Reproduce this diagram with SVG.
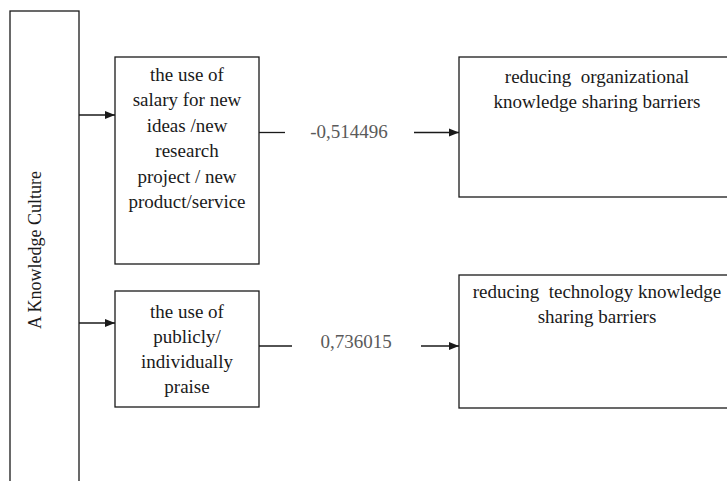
<svg xmlns="http://www.w3.org/2000/svg" width="727" height="481" viewBox="0 0 727 481">
<style>
.box{fill:#fff;stroke:#1a1a1a;stroke-width:1.3}
.t{font-family:"Liberation Serif","Times New Roman",serif;font-size:19px;fill:#1a1a1a;text-anchor:middle}
.lbl{font-family:"Liberation Serif","Times New Roman",serif;font-size:19px;fill:#5a5a5a;text-anchor:middle}
.ln{fill:none;stroke:#1a1a1a;stroke-width:1.3}
</style>
<defs>
<marker id="ah" viewBox="0 0 10 10" refX="10" refY="5" markerWidth="10" markerHeight="10" markerUnits="userSpaceOnUse" orient="auto">
<path d="M0,1 L10,5 L0,9 Z" fill="#1a1a1a"/>
</marker>
</defs>
<rect width="727" height="481" fill="#fff"/>
<g id="culture">
<rect class="box" x="10" y="11" width="69" height="480"/>
<text class="t" font-size="18" transform="translate(41,250) rotate(-90)" style="font-size:18px">A Knowledge Culture</text>
</g>
<g id="salary">
<rect class="box" x="115" y="57" width="144" height="207"/>
<text class="t" x="187" y="81">the use of</text>
<text class="t" x="187" y="106">salary for new</text>
<text class="t" x="187" y="132">ideas /new</text>
<text class="t" x="187" y="157">research</text>
<text class="t" x="187" y="183">project / new</text>
<text class="t" x="187" y="208">product/service</text>
</g>
<g id="praise">
<rect class="box" x="115" y="291" width="144" height="116"/>
<text class="t" x="187" y="318">the use of</text>
<text class="t" x="187" y="343">publicly/</text>
<text class="t" x="187" y="368">individually</text>
<text class="t" x="187" y="393">praise</text>
</g>
<g id="org">
<rect class="box" x="459" y="57" width="277" height="140"/>
<text class="t" x="597" y="83" xml:space="preserve">reducing  organizational</text>
<text class="t" x="597" y="108">knowledge sharing barriers</text>
</g>
<g id="tech">
<rect class="box" x="459" y="275" width="277" height="133"/>
<text class="t" x="597" y="298" xml:space="preserve">reducing  technology knowledge</text>
<text class="t" x="597" y="323">sharing barriers</text>
</g>
<g id="connectors">
<line class="ln" x1="79" y1="115" x2="115" y2="115" marker-end="url(#ah)"/>
<line class="ln" x1="79" y1="323" x2="115" y2="323" marker-end="url(#ah)"/>
<line class="ln" x1="259" y1="132.5" x2="285" y2="132.5"/>
<line class="ln" x1="414" y1="132.5" x2="459" y2="132.5" marker-end="url(#ah)"/>
<text class="lbl" x="349" y="138">-0,514496</text>
<line class="ln" x1="259" y1="346" x2="292" y2="346"/>
<line class="ln" x1="421" y1="346" x2="459" y2="346" marker-end="url(#ah)"/>
<text class="lbl" x="356" y="348">0,736015</text>
</g>
</svg>
